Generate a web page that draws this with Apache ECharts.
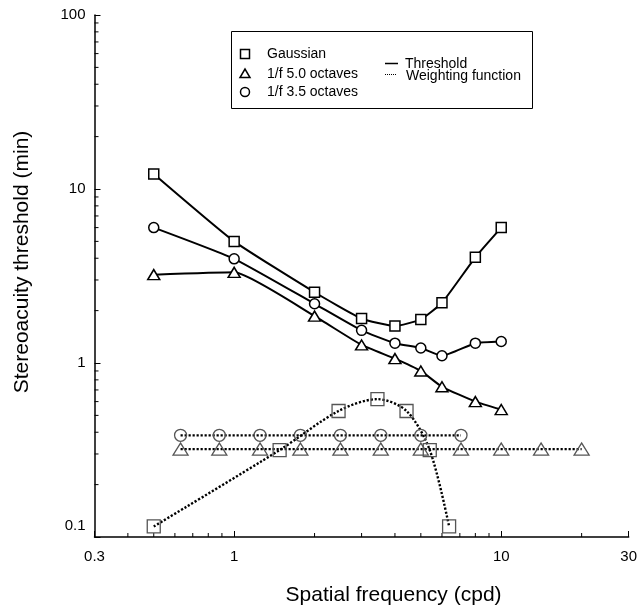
<!DOCTYPE html>
<html>
<head>
<meta charset="utf-8">
<script src="https://cdn.jsdelivr.net/npm/echarts@6/dist/echarts.min.js"></script>
<style>
html, body { margin: 0; padding: 0; background: #fff; }
#main { width: 640px; height: 611px; }
</style>
</head>
<body>
<div id="main"></div>
<script>
// threshold curves (min of arc) at the tested spatial frequencies
var threshFreq = [0.5, 1, 2, 3, 4, 5, 6, 8, 10];
var gaussThresh = [12.2, 5.0, 2.55, 1.8, 1.63, 1.78, 2.22, 4.05, 6.0];
var oct50Thresh = [3.22, 3.32, 1.86, 1.27, 1.06, 0.90, 0.73, 0.60, 0.54];
var oct35Thresh = [6.0, 3.97, 2.19, 1.54, 1.30, 1.22, 1.10, 1.30, 1.33];

// weighting functions
var gaussWeightFreq = [0.5, 1.48, 2.46, 3.44, 4.42, 5.40, 6.38];
var gaussWeight = [0.115, 0.316, 0.53, 0.62, 0.53, 0.316, 0.115];
var octWeightFreq = [0.63, 0.88, 1.25, 1.77, 2.5, 3.54, 5, 7.07, 10, 14.1, 20];
var oct50Weight = [0.32, 0.32, 0.32, 0.32, 0.32, 0.32, 0.32, 0.32, 0.32, 0.32, 0.32];
var oct35Weight = [0.384, 0.384, 0.384, 0.384, 0.384, 0.384, 0.384, 0.384];

// axes
var xMin = 0.3, xMax = 30;
var yMin = 0.1, yMax = 100;
var xMinorTicks = [0.4, 0.5, 0.6, 0.7, 0.8, 0.9, 2, 3, 4, 5, 6, 7, 8, 9, 20];
var yMinorTicks = [0.2, 0.3, 0.4, 0.5, 0.6, 0.7, 0.8, 0.9, 2, 3, 4, 5, 6, 7, 8, 9, 20, 30, 40, 50, 60, 70, 80, 90];

var font = '"Liberation Sans", Arial, Helvetica, sans-serif';

var myChart = echarts.init(document.getElementById('main'));

function pairs(xs, ys) {
    return xs.map(function (x, i) { return [x, ys[i]]; });
}

function threshSeries(name, symbol, size, xs, ys) {
    return {
        name: name,
        type: 'line',
        data: pairs(xs, ys),
        smooth: 0.15,
        symbol: symbol,
        symbolSize: size,
        z: 5,
        lineStyle: { color: '#000', width: 2 },
        itemStyle: { color: '#fff', borderColor: '#000', borderWidth: 1.5 }
    };
}

function weightSeries(name, symbol, size, xs, ys, smooth) {
    return {
        name: name,
        type: 'line',
        data: pairs(xs, ys),
        smooth: smooth,
        symbol: symbol,
        symbolSize: size,
        z: 3,
        lineStyle: { color: '#000', width: 2.4, type: [2.2, 1.8] },
        itemStyle: { color: 'rgba(0,0,0,0)', borderColor: '#555', borderWidth: 1.3 }
    };
}

// minor ticks for the log axes, drawn inward
function minorTicks(horizontal) {
    return function (params, api) {
        var p = api.coord([api.value(0), api.value(1)]);
        var p2 = horizontal ? [p[0], p[1] - 4] : [p[0] + 4, p[1]];
        return {
            type: 'line',
            shape: { x1: p[0], y1: p[1], x2: p2[0], y2: p2[1] },
            style: { stroke: '#000', lineWidth: 1 }
        };
    };
}

var option = {
    animation: false,
    backgroundColor: '#fff',
    grid: { left: 94.5, right: 9, top: 15, bottom: 72 },
    xAxis: {
        type: 'log',
        logBase: 10,
        min: xMin,
        max: xMax,
        name: 'Spatial frequency (cpd)',
        nameLocation: 'middle',
        nameGap: 48,
        nameTextStyle: { fontSize: 21, color: '#000', fontFamily: font, padding: [0, 0, 0, 64] },
        axisLine: { lineStyle: { color: '#000', width: 1.5 } },
        axisTick: { inside: true, length: 6, lineStyle: { color: '#000', width: 1 } },
        axisLabel: { color: '#000', fontSize: 15, fontFamily: font, margin: 12 },
        splitLine: { show: false }
    },
    yAxis: {
        type: 'log',
        logBase: 10,
        min: yMin,
        max: yMax,
        name: 'Stereoacuity threshold (min)',
        nameLocation: 'middle',
        nameGap: 62,
        nameTextStyle: { fontSize: 21, color: '#000', fontFamily: font, padding: [0, 0, 0, 28] },
        axisLine: { lineStyle: { color: '#000', width: 1.5 } },
        axisTick: { inside: true, length: 6, lineStyle: { color: '#000', width: 1 } },
        axisLabel: {
            color: '#000', fontSize: 15, fontFamily: font, margin: 9,
            formatter: function (v) { return v === yMin ? '{lo|' + v + '}' : v + ''; },
            rich: { lo: { fontSize: 15, fontFamily: font, color: '#000', padding: [0, 0, 22, 0] } }
        },
        splitLine: { show: false }
    },
    series: [
        weightSeries('Gaussian weighting', 'rect', 13, gaussWeightFreq, gaussWeight, 0.3),
        weightSeries('1/f 5.0 octaves weighting', 'triangle', [15, 12], octWeightFreq, oct50Weight, false),
        weightSeries('1/f 3.5 octaves weighting', 'circle', 12, octWeightFreq, oct35Weight, false),
        threshSeries('Gaussian', 'rect', 10, threshFreq, gaussThresh),
        threshSeries('1/f 5.0 octaves', 'triangle', [12, 10], threshFreq, oct50Thresh),
        threshSeries('1/f 3.5 octaves', 'circle', 10, threshFreq, oct35Thresh),
        {
            type: 'custom',
            silent: true,
            clip: false,
            renderItem: minorTicks(true),
            data: xMinorTicks.map(function (v) { return [v, yMin]; })
        },
        {
            type: 'custom',
            silent: true,
            clip: false,
            renderItem: minorTicks(false),
            data: yMinorTicks.map(function (v) { return [xMin, v]; })
        }
    ],
    graphic: [
        { type: 'rect', shape: { x: 231.5, y: 31.5, width: 301, height: 77 }, style: { fill: '#fff', stroke: '#000', lineWidth: 1 }, z: 10 },
        { type: 'rect', shape: { x: 240.5, y: 49.5, width: 9, height: 9 }, style: { fill: 'none', stroke: '#000', lineWidth: 1.5 }, z: 11 },
        { type: 'polygon', shape: { points: [[240, 77.5], [250, 77.5], [245, 69]] }, style: { fill: 'none', stroke: '#000', lineWidth: 1.5 }, z: 11 },
        { type: 'circle', shape: { cx: 245, cy: 92, r: 4.5 }, style: { fill: 'none', stroke: '#000', lineWidth: 1.5 }, z: 11 },
        { type: 'text', x: 267, y: 54, style: { text: 'Gaussian', font: '14px ' + font, fill: '#000', verticalAlign: 'middle' }, z: 11 },
        { type: 'text', x: 267, y: 74, style: { text: '1/f 5.0 octaves', font: '14px ' + font, fill: '#000', verticalAlign: 'middle' }, z: 11 },
        { type: 'text', x: 267, y: 92, style: { text: '1/f 3.5 octaves', font: '14px ' + font, fill: '#000', verticalAlign: 'middle' }, z: 11 },
        { type: 'line', shape: { x1: 385, y1: 63.5, x2: 398, y2: 63.5 }, style: { stroke: '#000', lineWidth: 1.5 }, z: 11 },
        { type: 'text', x: 405, y: 64, style: { text: 'Threshold', font: '14px ' + font, fill: '#000', verticalAlign: 'middle' }, z: 11 },
        { type: 'line', shape: { x1: 385, y1: 74.5, x2: 397, y2: 74.5 }, style: { stroke: '#000', lineWidth: 1, lineDash: [1, 1] }, z: 11 },
        { type: 'text', x: 406, y: 76, style: { text: 'Weighting function', font: '14px ' + font, fill: '#000', verticalAlign: 'middle' }, z: 11 }
    ]
};

myChart.setOption(option);
</script>
</body>
</html>
